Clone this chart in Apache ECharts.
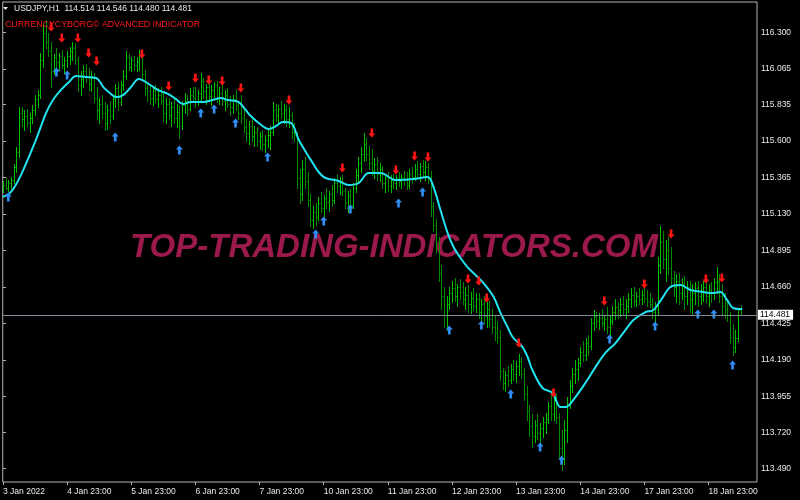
<!DOCTYPE html>
<html>
<head>
<meta charset="utf-8">
<style>html,body{margin:0;padding:0;background:#000;}#c{width:800px;height:500px;}</style>
<script src="https://cdn.jsdelivr.net/npm/echarts@6/dist/echarts.min.js"></script>
</head>
<body>
<div id="c"></div>
<script>
// ---- data (USDJPY H1, bars indexed from the first visible bar) ----
const opens = [
115.30,115.32,115.30,115.33,115.35,115.43,115.53,115.78,115.74,115.76,
115.72,115.75,115.80,115.87,115.90,116.12,116.30,116.24,116.18,116.05,
116.14,116.11,116.15,116.09,116.12,116.15,116.18,116.20,116.12,115.96,
116.00,116.05,116.02,115.97,116.01,115.88,115.80,115.84,115.78,115.72,
115.80,115.76,115.87,115.94,115.85,115.96,116.02,116.14,116.08,116.12,
116.09,116.11,116.15,116.03,115.94,115.92,115.88,115.93,115.87,115.90,
115.86,115.78,115.84,115.77,115.82,115.75,115.79,115.70,115.83,115.86,
115.81,115.90,115.88,115.86,115.91,115.99,115.92,115.95,115.89,115.93,
115.96,115.88,115.91,115.86,115.90,115.84,115.82,115.87,115.83,115.78,
115.75,115.69,115.65,115.70,115.63,115.66,115.60,115.63,115.58,115.61,
115.64,115.66,115.80,115.77,115.81,115.78,115.80,115.74,115.77,115.66,
115.64,115.36,115.26,115.42,115.34,115.22,115.09,115.14,115.11,115.20,
115.17,115.23,115.21,115.26,115.22,115.33,115.31,115.34,115.28,115.21,
115.25,115.19,115.30,115.38,115.46,115.52,115.58,115.52,115.46,115.41,
115.45,115.39,115.42,115.33,115.36,115.31,115.35,115.33,115.36,115.34,
115.37,115.35,115.32,115.39,115.37,115.42,115.39,115.44,115.40,115.43,
115.37,115.18,115.06,114.94,114.75,114.60,114.48,114.55,114.62,114.65,
114.60,114.66,114.63,114.58,114.61,114.55,114.59,114.54,114.58,114.50,
114.55,114.47,114.52,114.45,114.40,114.36,114.34,114.12,114.04,114.09,
114.06,114.13,114.10,114.15,114.18,114.10,113.97,113.86,113.76,113.70,
113.77,113.72,113.75,113.79,113.81,113.89,113.84,113.93,113.82,113.62,
113.55,113.74,113.90,114.02,114.10,114.13,114.17,114.24,114.22,114.30,
114.28,114.43,114.47,114.44,114.46,114.43,114.45,114.40,114.44,114.50,
114.53,114.51,114.55,114.52,114.54,114.58,114.61,114.57,114.60,114.58,
114.61,114.59,114.57,114.55,114.50,114.52,114.80,114.95,114.84,114.90,
114.78,114.72,114.66,114.70,114.62,114.68,114.60,114.66,114.58,114.62,
114.65,114.60,114.63,114.66,114.60,114.64,114.62,114.69,114.70,114.60,
114.54,114.52,114.48,114.34,114.27,114.33,114.514];
const highs = [
115.34,115.36,115.35,115.37,115.45,115.56,115.82,115.82,115.80,115.81,
115.78,115.83,115.90,115.93,116.17,116.36,116.38,116.30,116.24,116.16,
116.20,116.17,116.19,116.14,116.18,116.21,116.24,116.23,116.14,116.05,
116.09,116.10,116.07,116.05,116.04,115.95,115.88,115.90,115.85,115.83,
115.86,115.90,115.97,115.98,115.99,116.06,116.18,116.16,116.14,116.15,
116.14,116.19,116.18,116.06,115.97,115.96,115.95,115.96,115.94,115.95,
115.92,115.88,115.88,115.85,115.87,115.84,115.83,115.86,115.91,115.90,
115.94,115.95,115.95,115.93,116.04,116.01,115.97,115.99,115.96,115.98,
115.99,115.95,115.97,115.93,115.94,115.89,115.90,115.93,115.86,115.90,
115.80,115.74,115.73,115.74,115.70,115.69,115.66,115.67,115.64,115.67,
115.70,115.85,115.84,115.83,115.86,115.84,115.83,115.82,115.79,115.72,
115.66,115.42,115.48,115.50,115.40,115.26,115.18,115.20,115.24,115.27,
115.25,115.30,115.28,115.32,115.36,115.39,115.37,115.38,115.30,115.28,
115.29,115.33,115.42,115.50,115.56,115.65,115.62,115.57,115.55,115.49,
115.50,115.46,115.44,115.39,115.40,115.38,115.39,115.38,115.40,115.39,
115.41,115.40,115.42,115.43,115.45,115.47,115.46,115.48,115.47,115.46,
115.41,115.21,115.10,114.98,114.80,114.66,114.60,114.66,114.70,114.72,
114.68,114.71,114.69,114.66,114.67,114.63,114.65,114.62,114.62,114.58,
114.60,114.56,114.57,114.52,114.48,114.44,114.38,114.14,114.12,114.15,
114.16,114.19,114.18,114.23,114.21,114.14,114.02,113.90,113.84,113.80,
113.84,113.78,113.82,113.85,113.92,113.96,113.98,113.97,113.85,113.74,
113.80,113.95,114.06,114.14,114.19,114.20,114.27,114.31,114.33,114.35,
114.46,114.51,114.50,114.49,114.52,114.48,114.53,114.48,114.54,114.58,
114.56,114.59,114.60,114.58,114.62,114.65,114.66,114.63,114.65,114.64,
114.66,114.64,114.62,114.59,114.56,114.85,115.05,115.02,114.96,114.98,
114.92,114.76,114.74,114.75,114.72,114.73,114.70,114.70,114.68,114.69,
114.70,114.68,114.70,114.71,114.68,114.69,114.72,114.79,114.74,114.68,
114.62,114.58,114.50,114.42,114.38,114.52,114.546];
const lows = [
115.27,115.29,115.28,115.30,115.33,115.40,115.50,115.70,115.67,115.70,
115.66,115.72,115.77,115.82,115.88,116.08,116.20,116.15,115.95,116.03,
116.08,116.06,116.07,116.04,116.08,116.10,116.12,116.10,115.92,115.90,
115.95,115.98,115.93,115.92,115.85,115.74,115.72,115.75,115.67,115.68,
115.72,115.74,115.82,115.80,115.83,115.93,116.00,116.06,116.05,116.06,
116.05,116.06,116.00,115.90,115.86,115.84,115.83,115.85,115.82,115.84,
115.73,115.72,115.74,115.70,115.72,115.69,115.62,115.68,115.78,115.77,
115.80,115.85,115.82,115.83,115.86,115.88,115.84,115.86,115.83,115.87,
115.85,115.84,115.83,115.80,115.82,115.77,115.78,115.80,115.74,115.72,
115.66,115.60,115.58,115.60,115.57,115.57,115.55,115.54,115.53,115.56,
115.55,115.64,115.73,115.72,115.75,115.72,115.70,115.69,115.62,115.60,
115.30,115.20,115.22,115.30,115.18,115.05,115.04,115.06,115.09,115.14,
115.12,115.17,115.15,115.18,115.20,115.27,115.26,115.25,115.17,115.14,
115.16,115.17,115.27,115.34,115.40,115.47,115.48,115.42,115.38,115.36,
115.35,115.34,115.30,115.27,115.28,115.27,115.30,115.29,115.31,115.30,
115.32,115.29,115.30,115.33,115.35,115.36,115.34,115.37,115.35,115.33,
115.12,115.02,114.88,114.70,114.52,114.40,114.38,114.52,114.56,114.57,
114.54,114.58,114.55,114.52,114.50,114.49,114.51,114.50,114.46,114.42,
114.43,114.40,114.41,114.36,114.32,114.30,114.06,114.00,113.99,114.02,
114.04,114.06,114.05,114.09,114.07,113.93,113.80,113.70,113.63,113.66,
113.68,113.65,113.69,113.72,113.78,113.80,113.80,113.78,113.56,113.48,
113.52,113.66,113.88,113.98,114.04,114.06,114.15,114.18,114.19,114.22,
114.26,114.38,114.40,114.39,114.41,114.38,114.36,114.32,114.42,114.45,
114.46,114.47,114.48,114.46,114.50,114.53,114.54,114.54,114.55,114.55,
114.56,114.54,114.53,114.46,114.44,114.48,114.75,114.78,114.70,114.74,
114.66,114.60,114.56,114.55,114.58,114.52,114.55,114.50,114.48,114.55,
114.54,114.55,114.57,114.56,114.54,114.56,114.58,114.62,114.56,114.48,
114.46,114.44,114.30,114.22,114.24,114.31,114.480];
const closes = [
115.32,115.30,115.33,115.35,115.43,115.53,115.78,115.74,115.76,115.72,
115.75,115.80,115.87,115.90,116.12,116.30,116.24,116.18,116.05,116.14,
116.11,116.15,116.09,116.12,116.15,116.18,116.20,116.12,115.96,116.00,
116.05,116.02,115.97,116.01,115.88,115.80,115.84,115.78,115.72,115.80,
115.76,115.87,115.94,115.85,115.96,116.02,116.14,116.08,116.12,116.09,
116.11,116.15,116.03,115.94,115.92,115.88,115.93,115.87,115.90,115.86,
115.78,115.84,115.77,115.82,115.75,115.79,115.70,115.83,115.86,115.81,
115.90,115.88,115.86,115.91,115.99,115.92,115.95,115.89,115.93,115.96,
115.88,115.91,115.86,115.90,115.84,115.82,115.87,115.83,115.78,115.75,
115.69,115.65,115.70,115.63,115.66,115.60,115.63,115.58,115.61,115.64,
115.66,115.80,115.77,115.81,115.78,115.80,115.74,115.77,115.66,115.64,
115.36,115.26,115.42,115.34,115.22,115.09,115.14,115.11,115.20,115.17,
115.23,115.21,115.26,115.22,115.33,115.31,115.34,115.28,115.21,115.25,
115.19,115.30,115.38,115.46,115.52,115.58,115.52,115.46,115.41,115.45,
115.39,115.42,115.33,115.36,115.31,115.35,115.33,115.36,115.34,115.37,
115.35,115.32,115.39,115.37,115.42,115.39,115.44,115.40,115.43,115.37,
115.18,115.06,114.94,114.75,114.60,114.48,114.55,114.62,114.65,114.60,
114.66,114.63,114.58,114.61,114.55,114.59,114.54,114.58,114.50,114.55,
114.47,114.52,114.45,114.40,114.36,114.34,114.12,114.04,114.09,114.06,
114.13,114.10,114.15,114.18,114.10,113.97,113.86,113.76,113.70,113.77,
113.72,113.75,113.79,113.81,113.89,113.84,113.93,113.82,113.62,113.55,
113.74,113.90,114.02,114.10,114.13,114.17,114.24,114.22,114.30,114.28,
114.43,114.47,114.44,114.46,114.43,114.45,114.40,114.44,114.50,114.53,
114.51,114.55,114.52,114.54,114.58,114.61,114.57,114.60,114.58,114.61,
114.59,114.57,114.55,114.50,114.52,114.80,114.95,114.84,114.90,114.78,
114.72,114.66,114.70,114.62,114.68,114.60,114.66,114.58,114.62,114.65,
114.60,114.63,114.66,114.60,114.64,114.62,114.69,114.70,114.60,114.54,
114.52,114.48,114.34,114.27,114.33,114.51,114.481];

// indicator line (read at sampled bar positions)
const maIdx = [0,3,6.7,12.3,16.1,18.7,21.7,24.7,27.3,31,34.8,37.8,40.4,42.2,44.9,47.9,50.8,54.6,57.9,61.7,64.7,67.3,70.3,74.8,78.5,81.5,84.1,88.2,90.8,92.7,95.7,99.4,102.1,104.7,107.7,110.7,113.3,115.9,118.1,120.7,125.6,129.3,133.1,136.8,141.3,146.9,153.6,158.9,161.1,163.7,166.4,168.6,171.2,173.8,177.6,179.8,183.6,186.2,188.8,190.7,194.4,196.3,198.1,201.9,205.6,208.6,210.5,214.2,217.9,221.7,225.4,229.2,232.9,235.9,240.4,243.4,246.7,249.7,253.5,257.2,262.1,265.4,268.4,271,273.2,276.6];
const maVal = [115.240,115.272,115.381,115.607,115.781,115.865,115.930,115.981,116.020,116.013,116.007,115.943,115.904,115.884,115.897,115.949,116.001,115.968,115.930,115.904,115.872,115.839,115.852,115.852,115.865,115.878,115.865,115.852,115.801,115.762,115.717,115.678,115.697,115.723,115.717,115.607,115.530,115.459,115.401,115.362,115.343,115.317,115.330,115.394,115.394,115.349,115.356,115.369,115.304,115.156,115.007,114.917,114.846,114.788,114.724,114.685,114.595,114.491,114.401,114.337,114.272,114.208,114.124,114.008,113.976,113.885,113.885,113.950,114.040,114.143,114.234,114.298,114.382,114.446,114.498,114.511,114.588,114.659,114.672,114.640,114.627,114.620,114.627,114.575,114.524,114.517];

// signal arrows
const sellIdx = [18,22,28,32,35,52,62,72,77,82,89,107,127,138,147,154,159,174,178,181,193,206,225,240,250,263,269];
const sellVal = [116.336,116.265,116.265,116.168,116.117,116.162,115.955,116.007,115.994,115.988,115.943,115.865,115.427,115.652,115.414,115.504,115.498,114.711,114.698,114.588,114.298,113.976,114.569,114.678,115.001,114.711,114.717];
const buyIdx = [2,20,24,42,66,74,79,87,99,117,120,130,148,157,167,179,190,201,209,227,244,260,266,273];
const buyVal = [115.240,116.046,116.026,115.626,115.543,115.781,115.807,115.717,115.498,115.001,115.085,115.162,115.201,115.272,114.382,114.414,113.969,113.627,113.543,114.324,114.408,114.485,114.485,114.156];

// axis ticks
const xTickIdx = [0,24,48,72,96,120,144,168,192,216,240,264];
const xTickLabels = ['3 Jan 2022','4 Jan 23:00','5 Jan 23:00','6 Jan 23:00','7 Jan 23:00','10 Jan 23:00','11 Jan 23:00','12 Jan 23:00','13 Jan 23:00','14 Jan 23:00','17 Jan 23:00','18 Jan 23:00'];
const yTicks = [116.300,116.065,115.835,115.600,115.365,115.130,114.895,114.660,114.425,114.190,113.955,113.720,113.490];
const lastPrice = 114.481;

// ---- chart ----
const chart = echarts.init(document.getElementById('c'), null, {renderer: 'canvas'});
const ohlc = opens.map((o, i) => [i, o, highs[i], lows[i], closes[i]]);
const FONT = '"Liberation Sans", Arial, sans-serif';
const UP = '#00c400', DOWN = '#008e00';

const option = {
  backgroundColor: '#000000',
  animation: false,
  grid: {left: 2, right: 43, top: 2, bottom: 18, show: true, borderColor: '#b4b4b4', borderWidth: 1, backgroundColor: 'transparent'},
  xAxis: {
    type: 'value', min: -0.1, max: 282.14,
    axisLine: {show: false},
    splitLine: {show: false},
    axisTick: {show: true, customValues: xTickIdx, length: 3, lineStyle: {color: '#b4b4b4'}},
    axisLabel: {
      customValues: xTickIdx, align: 'left', margin: 5, color: '#e8e8e8', fontSize: 8.5, fontFamily: FONT,
      formatter: v => xTickLabels[xTickIdx.indexOf(Math.round(v))] || ''
    }
  },
  yAxis: {
    type: 'value', position: 'right', min: 113.402, max: 116.497, scale: true,
    axisLine: {show: false},
    splitLine: {show: false},
    axisTick: {show: true, customValues: yTicks, length: 3, lineStyle: {color: '#b4b4b4'}},
    axisLabel: {customValues: yTicks, margin: 4, color: '#e8e8e8', fontSize: 8.5, fontFamily: FONT, formatter: v => v.toFixed(3)}
  },
  graphic: [
    {type: 'text', x: 130, y: 248, z: 0, silent: true,
     style: {text: 'TOP-TRADING-INDICATORS.COM', font: 'italic bold 33px "Liberation Sans", Arial, sans-serif', fill: '#9b1a4b', verticalAlign: 'middle', align: 'left'}},
    {type: 'polygon', z: 100, shape: {points: [[3,7],[8,7],[5.5,10]]}, style: {fill: '#e8e8e8'}},
    {type: 'text', x: 14, y: 9, z: 100,
     style: {text: 'USDJPY,H1  114.514 114.546 114.480 114.481', font: '8.5px "Liberation Sans", Arial, sans-serif', fill: '#e8e8e8', verticalAlign: 'middle'}},
    {type: 'text', x: 5, y: 24.5, z: 100,
     style: {text: 'CURRENCYCYBORG\u00A9 ADVANCED INDICATOR', font: '8.8px "Liberation Sans", Arial, sans-serif', fill: '#ff1a1a', verticalAlign: 'middle'}}
  ],
  series: [
    {
      type: 'custom', name: 'USDJPY', z: 2, silent: true,
      data: ohlc,
      encode: {x: 0, y: [2, 3]},
      renderItem: (params, api) => {
        const i = api.value(0), o = api.value(1), h = api.value(2), l = api.value(3), c = api.value(4);
        const ph = api.coord([i, h]), pl = api.coord([i, l]), po = api.coord([i, o]), pc = api.coord([i, c]);
        const x = Math.round(ph[0]) + 0.5;
        const col = c >= o ? UP : DOWN;
        const st = {stroke: col, lineWidth: 1};
        return {type: 'group', children: [
          {type: 'line', shape: {x1: x, y1: Math.round(ph[1]), x2: x, y2: Math.round(pl[1]) + 1}, style: st},
          {type: 'line', shape: {x1: x - 1, y1: Math.round(po[1]) + 0.5, x2: x, y2: Math.round(po[1]) + 0.5}, style: st},
          {type: 'line', shape: {x1: x, y1: Math.round(pc[1]) + 0.5, x2: x + 1, y2: Math.round(pc[1]) + 0.5}, style: st}
        ]};
      }
    },
    {
      type: 'line', name: 'indicator', z: 3, silent: true,
      data: maIdx.map((v, k) => [v, maVal[k]]),
      smooth: 0.35, showSymbol: false,
      lineStyle: {color: '#22e4f0', width: 2},
      markLine: {
        silent: true, symbol: 'none', animation: false,
        data: [{yAxis: lastPrice}],
        lineStyle: {color: '#7e8c9a', width: 1, type: 'solid'},
        label: {show: true, position: 'end', distance: 1, formatter: () => lastPrice.toFixed(3),
                backgroundColor: '#ffffff', color: '#000000', fontSize: 8.5, fontFamily: FONT, padding: [1, 3, 0, 2]}
      }
    },
    {
      type: 'scatter', name: 'sell', z: 4, silent: true,
      data: sellIdx.map((v, k) => [v, sellVal[k]]),
      symbol: 'path://M2.5,0 L5.5,0 L5.5,5 L8,5 L4,9 L0,5 L2.5,5 Z',
      symbolSize: [7, 9],
      itemStyle: {color: '#ff1414', opacity: 1}
    },
    {
      type: 'scatter', name: 'buy', z: 4, silent: true,
      data: buyIdx.map((v, k) => [v, buyVal[k]]),
      symbol: 'path://M4,0 L8,4 L5.5,4 L5.5,9 L2.5,9 L2.5,4 L0,4 Z',
      symbolSize: [7, 9],
      itemStyle: {color: '#2f8df5', opacity: 1}
    }
  ]
};
chart.setOption(option);
</script>
</body>
</html>
